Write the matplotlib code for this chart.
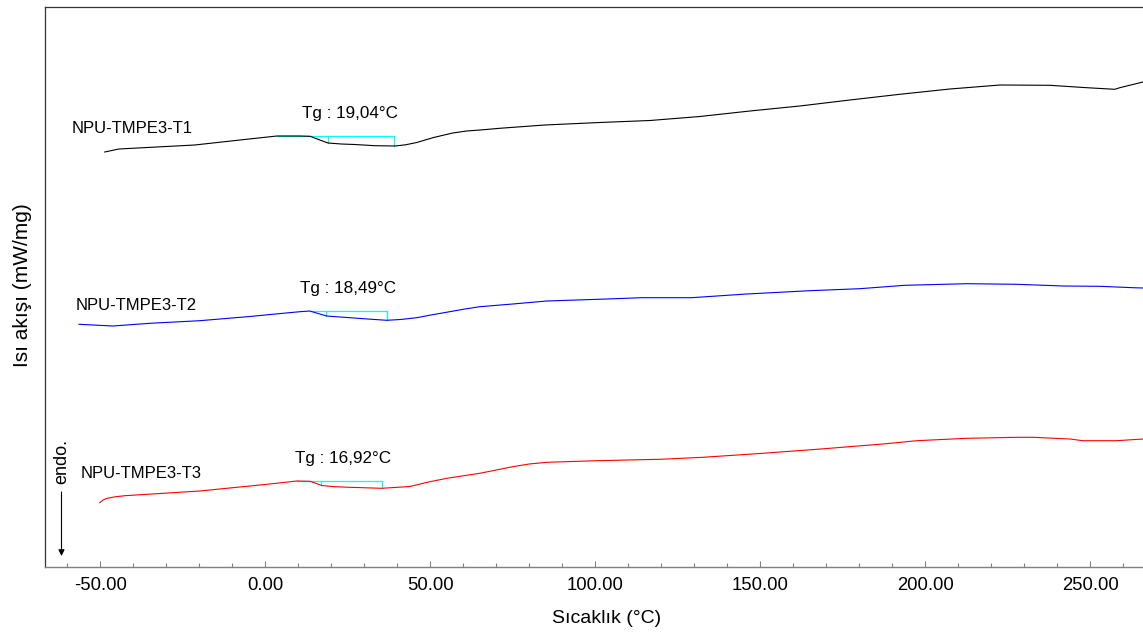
import numpy as np
import matplotlib
matplotlib.use("Agg")
import matplotlib.pyplot as plt
from matplotlib.ticker import MultipleLocator, FormatStrFormatter

plt.rcParams['font.family'] = ['Liberation Sans', 'DejaVu Sans']

# DSC heating curves: temperature (°C) and heat flow (mW/mg, stacked)
temp_t1 = [-48.7, -44.4, -21.4, -7.7, 3.5, 10.5, 13.6, 16.5, 19.0, 23.0, 27.1, 33.2,
           39.3, 42.5, 45.9, 51.0, 56.8, 61.0, 65.9, 71.0, 84.7, 101.4, 116.6,
           131.7, 146.9, 162.0, 177.2, 192.3, 207.5, 222.7, 237.8, 249.0, 257.5,
           259.0, 266.0]
flow_t1 = [4.15, 4.18, 4.22, 4.27, 4.31, 4.31, 4.307, 4.27, 4.24, 4.23, 4.225, 4.213,
           4.21, 4.222, 4.245, 4.295, 4.34, 4.36, 4.372, 4.387, 4.42, 4.445, 4.465,
           4.505, 4.56, 4.61, 4.67, 4.727, 4.78, 4.82, 4.817, 4.793, 4.777,
           4.793, 4.85]

temp_t2 = [-56.5, -46.2, -35.0, -19.9, -4.7, 5.3, 10.5, 13.5, 16.0, 18.6, 25.6, 31.0,
           36.8, 41.0, 45.9, 50.5, 55.9, 60.5, 65.0, 75.0, 85.3, 103.5, 114.1,
           129.2, 145.9, 165.0, 180.2, 193.8, 212.7, 227.8, 241.8, 253.0, 263.0,
           266.0]
flow_t2 = [2.427, 2.41, 2.437, 2.463, 2.505, 2.537, 2.553, 2.56, 2.535, 2.51, 2.493,
           2.48, 2.467, 2.475, 2.493, 2.522, 2.553, 2.58, 2.603, 2.63, 2.66, 2.68,
           2.693, 2.693, 2.73, 2.763, 2.783, 2.817, 2.833, 2.827, 2.81, 2.807,
           2.793, 2.79]

temp_t3 = [-50.2, -49.2, -48.0, -45.5, -42.6, -19.9, 0.5, 9.5, 13.5, 15.5, 17.1,
           21.0, 25.6, 35.3, 43.8, 49.5, 55.0, 65.0, 70.0, 75.0, 80.0, 85.3, 100.5,
           119.6, 132.6, 149.9, 167.2, 187.2, 197.5, 212.6, 227.8, 232.7, 243.9,
           247.8, 258.1, 266.0]
flow_t3 = [0.643, 0.67, 0.687, 0.702, 0.713, 0.76, 0.827, 0.86, 0.857, 0.835, 0.815,
           0.803, 0.797, 0.787, 0.805, 0.85, 0.887, 0.937, 0.97, 1.003, 1.03, 1.047,
           1.063, 1.077, 1.097, 1.135, 1.177, 1.23, 1.263, 1.287, 1.297, 1.297,
           1.28, 1.263, 1.263, 1.28]

sample_names = ["NPU-TMPE3-T1", "NPU-TMPE3-T2", "NPU-TMPE3-T3"]
line_colors = ["#000000", "#0000ff", "#ff0000"]

# Glass transition analysis: onset, Tg, end (°C)
tg_onset = [3.5, 13.5, 9.5]
tg_values = [19.04, 18.49, 16.92]
tg_end = [39.0, 36.8, 35.3]

x_ticks = [-50, 0, 50, 100, 150, 200, 250]

fig = plt.figure(figsize=(11.43, 6.33), dpi=100)
ax = fig.add_axes([45 / 1143, 66 / 633, 1120 / 1143, 560 / 633])

curves = [(temp_t1, flow_t1), (temp_t2, flow_t2), (temp_t3, flow_t3)]
name_pos = [(-58.7, 4.39), (-57.4, 2.61), (-55.9, 0.93)]

for (t, f), name, col, npos, on, tg, en in zip(curves, sample_names, line_colors,
                                               name_pos, tg_onset, tg_values, tg_end):
    ax.plot(t, f, color=col, lw=0.8, zorder=3)
    ax.text(npos[0], npos[1], name, ha='left', va='center', fontsize=12, color='black')

    # Tg construction: baseline from onset to end, drops at Tg and at end
    base = np.interp(on, t, f)
    ax.plot([on, en], [base, base], color='#00ffff', lw=0.9, zorder=2)
    for xv in (tg, en):
        ax.plot([xv, xv], [base, np.interp(xv, t, f)], color='#00ffff', lw=0.9, zorder=2)
    label = "Tg : " + f"{tg:.2f}".replace('.', ',') + "°C"
    ax.annotate(label, xy=(tg + 6.5, base), xytext=(0, 16), textcoords='offset points',
                ha='center', va='center', fontsize=12.3)

# endotherm direction marker
ax.text(-61.8, 1.05, "endo.", rotation=90, ha='center', va='center', fontsize=13)
ax.annotate("", xy=(-61.8, 0.11), xytext=(-61.8, 0.75),
            arrowprops=dict(arrowstyle='-|>', color='black', lw=0.8,
                            mutation_scale=9, shrinkA=0, shrinkB=0))

ax.set_xlim(-66.8, 272.7)
ax.set_ylim(0, 5.6)
ax.set_yticks([])
ax.xaxis.set_major_locator(MultipleLocator(50))
ax.xaxis.set_minor_locator(MultipleLocator(10))
ax.xaxis.set_major_formatter(FormatStrFormatter('%.2f'))
ax.set_xticks(x_ticks)
ax.tick_params(axis='x', which='major', direction='in', length=4.5, width=0.8,
               color='#808080', pad=7, labelsize=13.3)
ax.tick_params(axis='x', which='minor', direction='in', length=2.6, width=0.8,
               color='#808080')

for side in ('left', 'top', 'right'):
    ax.spines[side].set_color('#333333')
    ax.spines[side].set_linewidth(0.9)
ax.spines['bottom'].set_color('#808080')
ax.spines['bottom'].set_linewidth(1.0)

ax.set_xlabel("Sıcaklık (°C)", fontsize=14)
ax.xaxis.set_label_coords(0.501, -0.0765)
ax.set_ylabel("Isı akışı (mW/mg)", fontsize=15)
ax.yaxis.set_label_coords(-0.0116, 0.504)

fig.savefig("out.png", dpi=100)
